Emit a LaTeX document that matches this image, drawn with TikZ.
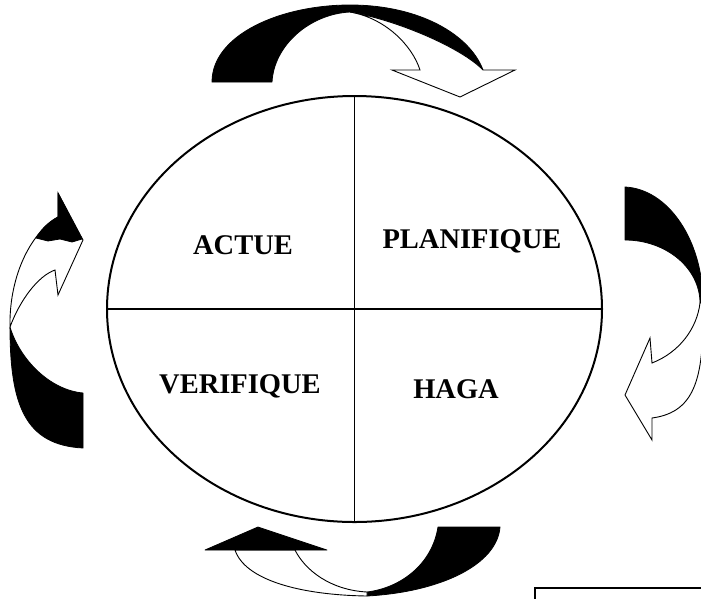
\documentclass[tikz,border=0pt]{standalone}
\usepackage{fontspec}
\setmainfont{Liberation Serif}
\usetikzlibrary{shapes.geometric}
\begin{document}
\begin{tikzpicture}[x=1pt,y=-1pt,
  lbl/.style={font=\bfseries\fontsize{28.5}{30}\selectfont, anchor=base, inner sep=0pt},
  darkpart/.style={fill=black, draw=black, line width=0.8pt, line join=round},
  lightpart/.style={fill=white, draw=black, line width=0.9pt, line join=miter},
  divider/.style={draw=black, line width=1.3pt}]
\useasboundingbox (0,0) rectangle (701,598);
\clip (0,0) rectangle (701,598);

% central ellipse and quadrants
\node[ellipse, draw=black, line width=2pt, minimum width=495pt, minimum height=426pt, inner sep=0pt] (cyc) at (354.5,309) {};
\draw[divider] (cyc.north) -- (cyc.south);
\draw[divider] (cyc.west) -- (cyc.east);

\node[lbl] (actue) at (243,254) {ACTUE};
\node[lbl] (plan) at (472,248) {PLANIFIQUE};
\node[lbl] (verif) at (240,393) {VERIFIQUE};
\node[lbl] (haga) at (456,398) {HAGA};

% top arrow
\path[darkpart] (212,82) .. controls (212,35) and (280,5) .. (350,5)
  .. controls (420,5) and (470,35) .. (483,70)
  .. controls (462,48) and (397,20) .. (350,12)
  .. controls (310,14) and (274,45) .. (272,82) -- cycle;
\path[lightpart] (350,12) .. controls (397,20) and (462,48) .. (483,70)
  -- (515,70) -- (460,97) -- (392,70) -- (420,70)
  .. controls (412,45) and (385,18) .. (350,12) -- cycle;

% right arrow
\path[darkpart] (625,187) .. controls (668,189) and (703,240) .. (703,303)
  -- (700,303) .. controls (700,268) and (666,240) .. (625,240) -- cycle;
\path[lightpart] (700,303) -- (703,303) .. controls (704,375) and (697,412) .. (652,418)
  -- (652,440) -- (625,395) -- (650,338) -- (652,363)
  .. controls (680,352) and (697,328) .. (700,303) -- cycle;

% bottom arrow
\path[darkpart] (367,596) .. controls (440,592) and (497,565) .. (500,527)
  -- (438,527) .. controls (432,565) and (400,588) .. (367,592) -- cycle;
\path[lightpart] (367,596) .. controls (300,595) and (245,580) .. (235,550)
  -- (295,550) .. controls (305,570) and (330,590) .. (367,592) -- cycle;
\path[darkpart] (205,550) -- (258,527) -- (327,550) -- cycle;

% left arrow
\path[darkpart] (10,327) .. controls (10,405) and (25,445) .. (83,448)
  -- (83,393) .. controls (50,390) and (20,360) .. (10,327) -- cycle;
\path[lightpart] (10,327) .. controls (9,280) and (28,235) .. (58,217)
  -- (58,193) -- (83,240) -- (58,295) -- (55,270)
  .. controls (38,276) and (20,300) .. (10,327) -- cycle;
\path[darkpart] (58,193) -- (82,239) -- (72,242) -- (60,239) -- (48,241) -- (36,238)
  .. controls (42,228) and (50,221) .. (58,217) -- cycle;

% partial frame at bottom right
\draw[line width=1.5pt] (535,588) rectangle (740,660);
\end{tikzpicture}
\end{document}
